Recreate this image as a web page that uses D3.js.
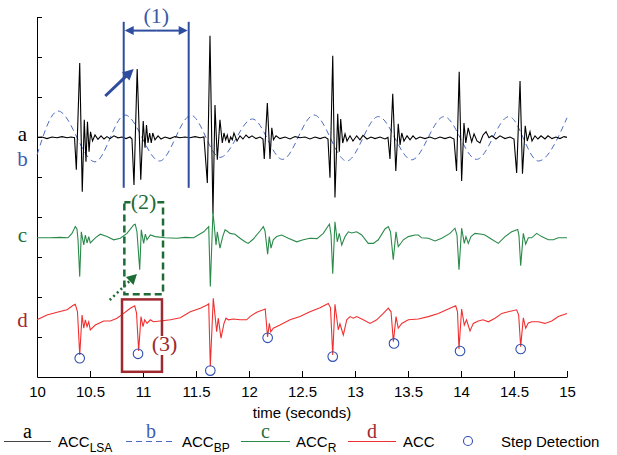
<!DOCTYPE html>
<html>
<head>
<meta charset="utf-8">
<script src="https://cdn.jsdelivr.net/npm/d3@7"></script>
<style>
body{margin:0;background:#fff}
svg{display:block}
</style>
</head>
<body>
<script>
var width = 617, height = 455;

// axes
var xTicks = [10,10.5,11,11.5,12,12.5,13,13.5,14,14.5,15];
var yTicks = [10,20,30,40,50,60,70,80,90];

// a : ACC_LSA  [time (s), value]
var accLsa = [[10.000,59.9],[10.047,60.0],[10.094,59.6],[10.142,60.0],[10.189,59.8],[10.236,60.1],[10.283,59.8],[10.321,60.0],[10.354,59.8],
 [10.371,51.8],[10.403,78.5],[10.427,46.3],[10.446,64.3],[10.462,53.8],[10.476,63.8],[10.491,56.3],[10.505,61.3],[10.524,59.0],[10.547,60.5],
 [10.575,59.4],[10.604,60.3],[10.632,59.5],[10.660,60.1],[10.689,59.6],[10.726,60.3],[10.764,59.8],[10.802,60.0],[10.840,59.6],[10.877,60.0],[10.896,59.5],
 [10.915,48.0],[10.945,77.0],[10.979,49.3],[11.002,64.0],[11.019,57.3],[11.033,63.0],[11.047,58.5],[11.063,61.0],[11.078,58.5],[11.092,61.0],
 [11.113,59.3],[11.142,60.3],[11.170,59.5],[11.208,60.0],[11.255,59.6],[11.302,60.1],[11.349,59.8],[11.396,60.0],[11.443,59.8],[11.491,60.1],[11.538,59.8],[11.575,60.0],
 [11.607,48.5],[11.632,85.3],[11.660,40.8],[11.679,68.0],[11.701,54.3],[11.726,64.3],[11.748,58.5],[11.764,61.0],[11.780,59.3],[11.795,60.5],[11.811,58.5],
 [11.827,60.0],[11.842,59.3],[11.858,61.0],[11.887,59.0],[11.915,60.3],[11.943,59.5],[11.972,60.5],[12.000,59.8],[12.028,60.3],[12.066,59.6],[12.104,60.0],[12.132,59.5],
 [12.144,54.5],[12.173,68.5],[12.198,54.5],[12.215,62.3],[12.231,59.3],[12.255,60.3],[12.292,59.6],[12.340,60.0],[12.387,59.5],[12.434,60.1],[12.481,59.8],
 [12.528,60.0],[12.575,59.5],[12.623,60.0],[12.670,59.6],[12.717,60.0],[12.745,59.5],
 [12.764,49.8],[12.790,80.3],[12.811,44.9],[12.837,65.8],[12.852,56.3],[12.865,64.5],[12.884,58.5],[12.906,60.8],[12.925,59.0],[12.953,60.3],[12.981,59.0],
 [13.016,60.3],[13.047,59.3],[13.075,60.4],[13.113,59.5],[13.151,60.0],[13.189,59.6],[13.236,60.0],[13.283,59.5],[13.311,59.9],
 [13.330,54.5],[13.356,70.8],[13.385,51.5],[13.408,63.3],[13.425,58.0],[13.441,61.0],[13.462,59.0],[13.491,60.3],[13.519,59.3],[13.547,60.3],[13.575,59.5],
 [13.613,60.0],[13.660,59.6],[13.708,60.0],[13.755,59.5],[13.802,60.0],[13.849,59.6],[13.896,60.0],[13.934,59.5],
 [13.958,51.5],[13.983,76.3],[14.006,49.0],[14.028,63.5],[14.045,58.5],[14.068,62.3],[14.101,58.8],[14.123,60.8],[14.151,59.0],[14.179,58.5],[14.208,60.5],
 [14.236,61.3],[14.264,59.8],[14.292,60.3],[14.330,59.5],[14.368,60.3],[14.415,59.6],[14.462,60.0],[14.500,59.5],
 [14.525,51.0],[14.557,74.0],[14.580,50.8],[14.606,62.8],[14.625,59.0],[14.651,61.3],[14.670,59.0],[14.698,60.3],[14.726,59.5],[14.755,60.3],[14.792,59.5],
 [14.821,60.3],[14.858,59.6],[14.896,60.0],[14.934,59.6],[14.972,60.1],[15.000,59.9]];

// b : ACC_BP, turning points of the band-passed signal
var accBp = [[10.000,55.5],[10.198,66.5],[10.547,53.8],[10.830,65.5],[11.156,54.0],[11.453,65.4],[11.726,54.9],[12.033,64.5],[12.316,54.4],
 [12.613,65.5],[12.922,54.0],[13.220,65.1],[13.535,54.3],[13.840,65.1],[14.146,54.4],[14.453,65.1],[14.729,54.0],[15.000,64.8]];

// c : ACC_R
var accR = [[10.000,34.8],[10.123,34.8],[10.217,34.9],[10.292,34.8],[10.330,35.9],[10.361,37.6],[10.377,37.0],[10.387,34.3],[10.403,25.1],[10.418,36.3],
 [10.441,33.0],[10.456,35.5],[10.472,33.5],[10.488,35.1],[10.503,33.5],[10.550,34.8],[10.597,35.7],[10.660,35.1],[10.724,34.3],[10.786,34.7],[10.849,35.9],
 [10.912,38.0],[10.927,38.2],[10.943,36.3],[10.969,26.8],[10.984,36.8],[11.006,33.4],[11.022,35.7],[11.038,34.3],[11.069,35.5],[11.116,35.1],[11.208,34.8],
 [11.321,34.7],[11.396,34.9],[11.478,34.8],[11.573,36.3],[11.620,37.6],[11.635,22.6],[11.660,41.3],[11.689,33.0],[11.701,36.3],[11.726,32.2],[11.752,35.1],
 [11.774,36.8],[11.792,36.5],[11.821,35.9],[11.868,35.7],[11.915,34.7],[11.962,33.8],[11.993,33.4],[12.041,34.5],[12.104,36.5],[12.135,37.6],[12.151,36.5],
 [12.176,30.7],[12.191,35.1],[12.208,32.2],[12.229,34.3],[12.261,35.1],[12.308,35.5],[12.371,34.7],[12.450,33.8],[12.512,34.3],[12.575,34.7],[12.642,34.6],
 [12.701,35.9],[12.748,37.8],[12.759,38.2],[12.774,35.5],[12.790,25.8],[12.811,38.8],[12.833,33.8],[12.852,35.9],[12.875,33.0],[12.906,35.1],[12.937,36.3],
 [12.969,36.0],[13.016,36.3],[13.063,35.5],[13.125,33.4],[13.173,33.4],[13.220,34.3],[13.283,37.0],[13.314,37.6],[13.335,36.3],[13.361,29.3],[13.387,36.3],
 [13.408,32.6],[13.434,33.5],[13.456,34.3],[13.503,35.1],[13.566,35.5],[13.597,35.5],[13.629,34.8],[13.692,34.7],[13.755,34.0],[13.818,34.7],[13.896,35.9],
 [13.943,37.2],[13.962,35.5],[13.981,26.8],[14.006,37.2],[14.031,33.4],[14.047,35.1],[14.069,33.4],[14.094,35.1],[14.132,35.9],[14.195,35.7],[14.226,35.5],
 [14.274,34.7],[14.352,33.4],[14.415,35.1],[14.478,36.3],[14.535,36.9],[14.547,35.3],[14.563,27.8],[14.588,35.9],[14.610,33.2],[14.635,34.8],[14.667,34.8],
 [14.714,35.9],[14.761,35.1],[14.824,34.3],[14.871,34.3],[14.918,34.8],[15.000,34.8]];

// d : ACC
var acc = [[10.000,14.3],[10.094,15.5],[10.189,16.2],[10.283,16.8],[10.346,18.0],[10.361,18.2],[10.382,16.3],[10.403,5.5],[10.425,15.5],[10.441,12.2],
 [10.456,14.3],[10.472,12.6],[10.488,13.8],[10.503,11.8],[10.550,13.0],[10.629,14.0],[10.692,14.0],[10.755,14.7],[10.818,15.9],[10.880,17.2],[10.922,17.8],
 [10.939,16.0],[10.959,6.5],[10.981,15.1],[11.000,12.6],[11.016,14.3],[11.038,13.4],[11.069,14.3],[11.097,13.8],[11.163,14.0],[11.258,14.3],[11.352,14.8],
 [11.446,16.3],[11.541,17.2],[11.604,18.0],[11.620,18.3],[11.635,2.6],[11.663,19.7],[11.695,11.3],[11.710,14.7],[11.736,9.7],[11.764,13.4],[11.783,14.7],
 [11.805,14.3],[11.852,14.5],[11.915,14.3],[11.978,14.3],[12.009,15.1],[12.073,16.2],[12.135,16.8],[12.153,17.0],[12.175,10.0],[12.192,13.4],[12.205,11.3],
 [12.229,12.2],[12.292,13.0],[12.387,14.3],[12.481,15.1],[12.575,16.3],[12.670,17.3],[12.748,18.4],[12.769,17.3],[12.790,5.5],[12.811,18.2],[12.842,11.8],
 [12.858,13.3],[12.890,10.5],[12.922,14.3],[12.953,15.1],[12.984,14.7],[13.016,15.1],[13.078,14.3],[13.142,13.4],[13.205,14.3],[13.267,15.9],[13.314,17.2],
 [13.340,16.3],[13.362,8.8],[13.387,15.1],[13.408,12.2],[13.441,13.4],[13.503,14.3],[13.597,14.5],[13.692,15.1],[13.786,15.9],[13.880,17.0],[13.950,17.8],
 [13.967,16.3],[13.981,7.0],[14.006,17.0],[14.031,13.0],[14.052,14.3],[14.085,11.5],[14.116,13.4],[14.163,14.0],[14.208,14.3],[14.258,13.8],[14.321,14.7],
 [14.384,15.9],[14.446,16.3],[14.525,16.8],[14.544,15.5],[14.563,7.6],[14.588,14.8],[14.610,12.2],[14.635,13.5],[14.667,13.8],[14.729,13.8],[14.792,13.4],
 [14.856,14.0],[14.918,15.1],[15.000,15.9]];

// step detections
var steps = [[10.403,4.7],[10.953,5.8],[11.635,1.6],[12.176,9.8],[12.790,5.1],[13.368,8.4],[13.991,6.5],[14.563,7.0]];

// annotations (seconds / value units)
var span1 = [10.818, 11.431];
var box2 = [10.824, 11.189, 20.7, 43.7];
var box3 = [10.802, 11.179, 1.3, 19.4];

var blue = "#2e4d9e", green = "#1d6b35", darkRed = "#9e2a2f";
var colA = "#000", colB = "#4a6bc0", colC = "#2a8a4a", colD = "#f03030", colStep = "#3050b0";

var svg = d3.select("body").append("svg").attr("width", width).attr("height", height);

var x = d3.scaleLinear().domain([10, 15]).range([37, 567]);
var y = d3.scaleLinear().domain([0, 90]).range([377, 17]);

// axes
svg.append("g").attr("transform", "translate(37,0)")
  .call(d3.axisLeft(y).tickValues(yTicks).tickSizeInner(-5).tickSizeOuter(0).tickFormat(""))
  .call(function(g){ g.select(".domain").attr("stroke", "#000"); });
svg.append("g").attr("transform", "translate(0,377)")
  .call(d3.axisBottom(x).tickValues(xTicks).tickSizeInner(-6).tickSizeOuter(0).tickPadding(9).tickFormat(function(d){ return d; }))
  .call(function(g){
    g.selectAll("text").attr("font-family", "Liberation Sans, Arial, sans-serif").attr("font-size", "15px").attr("fill", "#000");
  });
svg.append("text").attr("x", 302).attr("y", 418).attr("text-anchor", "middle")
  .attr("font-family", "Liberation Sans, Arial, sans-serif").attr("font-size", "15px").text("time (seconds)");

// signals
var line = d3.line().x(function(d){ return x(d[0]); }).y(function(d){ return y(d[1]); });
var smooth = d3.line().x(function(d){ return x(d[0]); }).y(function(d){ return y(d[1]); }).curve(d3.curveMonotoneX);

svg.append("path").attr("d", smooth(accBp)).attr("fill", "none").attr("stroke", colB).attr("stroke-width", 1).attr("stroke-dasharray", "6,4");
svg.append("path").attr("d", line(accLsa)).attr("fill", "none").attr("stroke", colA).attr("stroke-width", 1.1);
svg.append("path").attr("d", line(accR)).attr("fill", "none").attr("stroke", colC).attr("stroke-width", 1.1);
svg.append("path").attr("d", line(acc)).attr("fill", "none").attr("stroke", colD).attr("stroke-width", 1.1);

svg.selectAll("circle.step").data(steps).enter().append("circle").attr("class", "step")
  .attr("cx", function(d){ return x(d[0]); }).attr("cy", function(d){ return y(d[1]); })
  .attr("r", 4.8).attr("fill", "none").attr("stroke", colStep).attr("stroke-width", 1.1);

// trace labels
var serif = "Liberation Serif, Times New Roman, serif";
[["a", 141, colA], ["b", 166, "#3d5db5"], ["c", 242, "#1e6e3a"], ["d", 327, darkRed]].forEach(function(l){
  svg.append("text").attr("x", 22.5).attr("y", l[1]).attr("text-anchor", "middle")
    .attr("font-family", serif).attr("font-size", "21px").attr("fill", l[2]).text(l[0]);
});

function head(x1, y1, x2, y2, len, half){
  var a = Math.atan2(y2 - y1, x2 - x1);
  var bx = x2 - len * Math.cos(a), by = y2 - len * Math.sin(a);
  var px = -Math.sin(a) * half, py = Math.cos(a) * half;
  return [[x2, y2], [bx + px, by + py], [bx - px, by - py]];
}
function arrow(x1, y1, x2, y2, col, w, len, half, dash){
  var a = Math.atan2(y2 - y1, x2 - x1);
  svg.append("line").attr("x1", x1).attr("y1", y1)
    .attr("x2", x2 - (len - 1) * Math.cos(a)).attr("y2", y2 - (len - 1) * Math.sin(a))
    .attr("stroke", col).attr("stroke-width", w).attr("stroke-dasharray", dash || null);
  svg.append("polygon").attr("points", head(x1, y1, x2, y2, len, half).map(function(p){ return p.join(","); }).join(" ")).attr("fill", col);
}

// (1)
span1.forEach(function(t){
  svg.append("line").attr("x1", x(t)).attr("x2", x(t)).attr("y1", y(88.8)).attr("y2", y(47.3))
    .attr("stroke", blue).attr("stroke-width", 2);
});
var ay = y(86.6), xm = (x(span1[0]) + x(span1[1])) / 2;
arrow(xm, ay, x(span1[0]) + 1, ay, blue, 2, 9, 4.5);
arrow(xm, ay, x(span1[1]) - 1, ay, blue, 2, 9, 4.5);
svg.append("text").attr("x", x(11.125)).attr("y", y(88.5)).attr("text-anchor", "middle")
  .attr("font-family", serif).attr("font-size", "22px").attr("fill", "#3a5aa8").text("(1)");
arrow(x(10.644), y(70.25), x(10.912), y(77.0), blue, 3, 11, 5.5);

// (2)
svg.append("rect").attr("x", x(box2[0])).attr("y", y(box2[3])).attr("width", x(box2[1]) - x(box2[0])).attr("height", y(box2[2]) - y(box2[3]))
  .attr("fill", "none").attr("stroke", green).attr("stroke-width", 2.5).attr("stroke-dasharray", "7,4");
svg.append("rect").attr("x", x(11.005) - 13).attr("y", y(42) - 14).attr("width", 26).attr("height", 16).attr("fill", "#fff");
svg.append("text").attr("x", x(11.005)).attr("y", y(42)).attr("text-anchor", "middle")
  .attr("font-family", serif).attr("font-size", "22px").attr("fill", green).text("(2)");
arrow(x(10.686), y(19.25), x(10.943), y(25.75), green, 2.5, 10, 5.5, "2,3");

// (3)
svg.append("rect").attr("x", x(box3[0])).attr("y", y(box3[3])).attr("width", x(box3[1]) - x(box3[0])).attr("height", y(box3[2]) - y(box3[3]))
  .attr("fill", "none").attr("stroke", darkRed).attr("stroke-width", 2.5);
svg.append("rect").attr("x", x(11.203) - 12).attr("y", y(6.5) - 15).attr("width", 24).attr("height", 19).attr("fill", "#fff");
svg.append("text").attr("x", x(11.203)).attr("y", y(6.5)).attr("text-anchor", "middle")
  .attr("font-family", serif).attr("font-size", "22px").attr("fill", darkRed).text("(3)");

// legend
var sans = "Liberation Sans, Arial, sans-serif";
var ly = 441.5;
var legend = [
  {x1: 4, x2: 51, letter: "a", lc: colA, stroke: "#444", dash: null, tx: 58, sub: "LSA"},
  {x1: 126, x2: 176, letter: "b", lc: "#3d5db5", stroke: colB, dash: "6,4", tx: 182, sub: "BP"},
  {x1: 241, x2: 290, letter: "c", lc: "#1e6e3a", stroke: colC, dash: null, tx: 296, sub: "R"},
  {x1: 348, x2: 396, letter: "d", lc: darkRed, stroke: colD, dash: null, tx: 403, sub: ""}
];
legend.forEach(function(l){
  svg.append("line").attr("x1", l.x1).attr("x2", l.x2).attr("y1", ly).attr("y2", ly)
    .attr("stroke", l.stroke).attr("stroke-width", 1.2).attr("stroke-dasharray", l.dash);
  svg.append("text").attr("x", (l.x1 + l.x2) / 2).attr("y", 438).attr("text-anchor", "middle")
    .attr("font-family", serif).attr("font-size", "20px").attr("fill", l.lc).text(l.letter);
  var t = svg.append("text").attr("x", l.tx).attr("y", 447).attr("font-family", sans).attr("font-size", "15px").text("ACC");
  if (l.sub) t.append("tspan").attr("dy", 5).attr("font-size", "12px").text(l.sub);
});
svg.append("circle").attr("cx", 468).attr("cy", 441).attr("r", 4.5).attr("fill", "none").attr("stroke", colStep).attr("stroke-width", 1.1);
svg.append("text").attr("x", 501).attr("y", 447).attr("font-family", sans).attr("font-size", "15px").text("Step Detection");
</script>
</body>
</html>
